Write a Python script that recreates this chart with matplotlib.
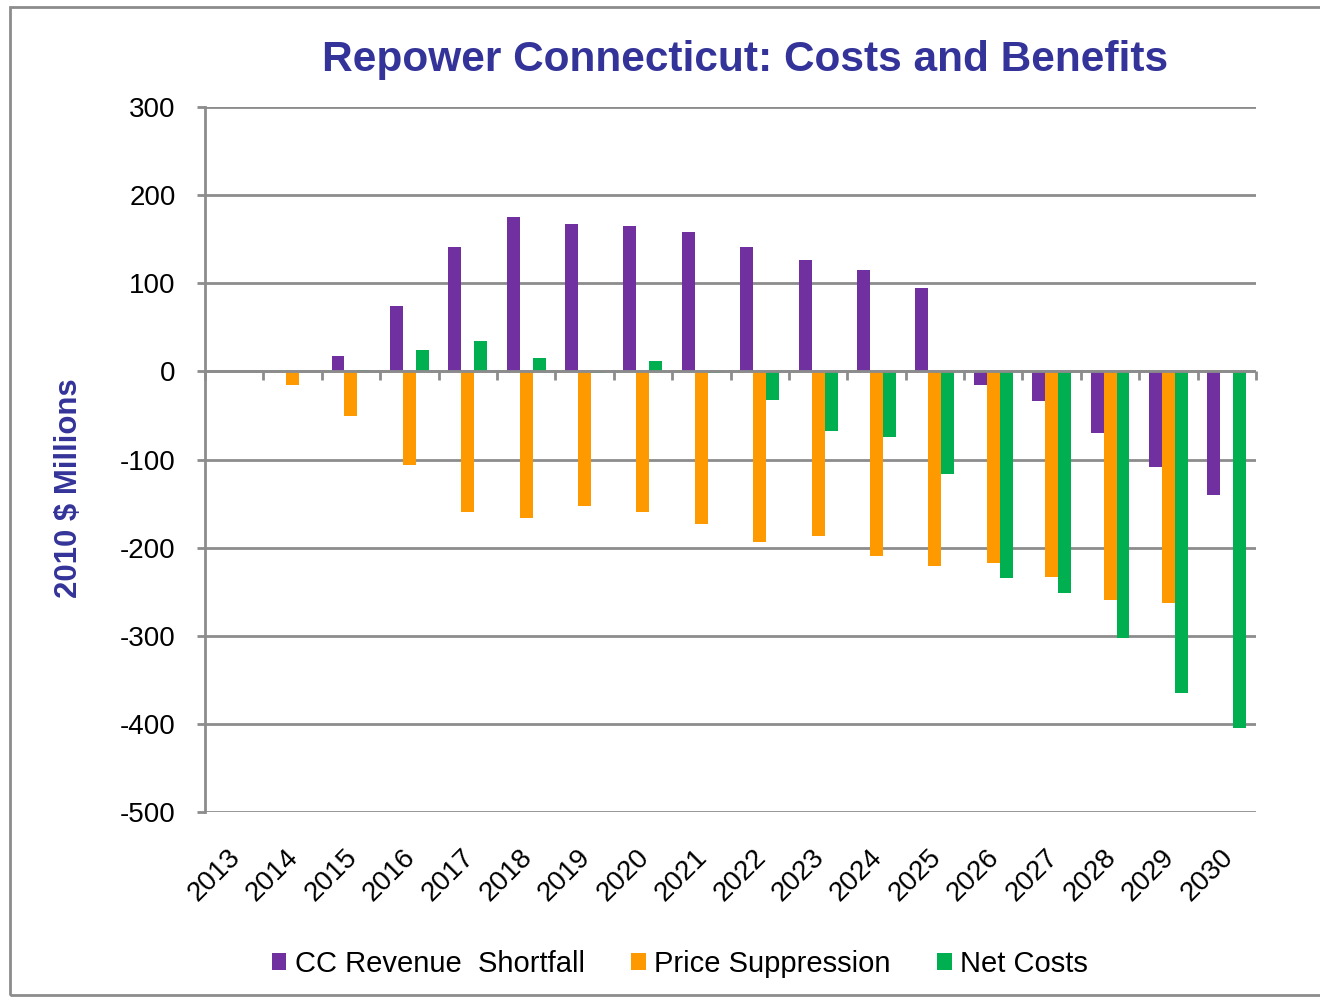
import matplotlib
matplotlib.use("Agg")
import matplotlib.pyplot as plt
import numpy as np
from matplotlib.patches import Rectangle

plt.rcParams['font.family'] = ['Liberation Sans', 'DejaVu Sans']
plt.rcParams['axes.unicode_minus'] = False

years = [str(y) for y in range(2013, 2031)]
cc_revenue_shortfall = [0, 0, 17, 74, 141, 175, 167, 165, 158, 141, 126, 115, 95, -15, -34, -70, -108, -140]
price_suppression = [0, -15, -51, -106, -160, -166, -153, -160, -173, -194, -187, -209, -221, -218, -233, -259, -263, 0]
net_costs = [0, 0, 1, 24, 35, 15, -2, 12, -2, -32, -68, -74, -116, -235, -252, -302, -365, -405]
series_names = ["CC Revenue  Shortfall", "Price Suppression", "Net Costs"]
colors = ["#7030A0", "#FF9900", "#00B050"]

fig = plt.figure(figsize=(13.2, 9.97), dpi=100)
fig.patches.append(Rectangle((10/1320, 2/997), 1.0, 1 - 9/997, transform=fig.transFigure,
                             fill=False, edgecolor="#8c8c8c", linewidth=2))
ax = fig.add_axes([205/1320, 1 - 812/997, (1256 - 205)/1320, (812 - 107)/997])

x = np.arange(len(years))
w = 0.222
for i, (vals, c, name) in enumerate(zip([cc_revenue_shortfall, price_suppression, net_costs], colors, series_names)):
    ax.bar(x + (i - 1) * w, vals, width=w, color=c, label=name, zorder=3)

ax.set_xlim(-0.5, len(years) - 0.5)
ax.set_ylim(-500, 300)
ax.set_yticks(np.arange(-500, 301, 100))
ax.yaxis.grid(True, color="#8c8c8c", linewidth=2, zorder=0)
ax.set_axisbelow(True)
for s in ["top", "right", "bottom"]:
    ax.spines[s].set_visible(False)
ax.spines["left"].set_color("#8c8c8c")
ax.spines["left"].set_linewidth(2)
ax.tick_params(axis="y", length=6, width=2, color="#8c8c8c", labelsize=20, pad=15)

# x axis line at zero with category-boundary ticks
ax.axhline(0, color="#8c8c8c", linewidth=2, zorder=4)
ax.set_xticks(x)
ax.set_xticklabels([])
ax.tick_params(axis="x", length=0)
for b in np.arange(-0.5, len(years), 1.0):
    ax.plot([b, b], [0, -10], color="#8c8c8c", linewidth=2, zorder=4, clip_on=False,
            solid_capstyle="butt")

for xi, lab in zip(x, years):
    ax.annotate(lab, xy=(xi, -500), xycoords="data", xytext=(-5, -23), textcoords="offset points",
                rotation=45, ha="right", va="top", fontsize=20, rotation_mode="anchor")

fig.text(745/1320, 1 - 60/997, "Repower Connecticut: Costs and Benefits", ha="center", va="center",
         fontsize=30.5, fontweight="bold", color="#333399")
fig.text(69/1320, 1 - 488/997, "2010 $ Millions", ha="center", va="center", rotation=90,
         fontsize=22.4, fontweight="bold", color="#333399")

leg = fig.legend(loc="center", bbox_to_anchor=(680/1320, 1 - 964/997), ncol=3, frameon=False,
                 fontsize=21, handlelength=0.5, handleheight=0.5, handletextpad=0.3, columnspacing=1.58)

fig.savefig("out.png", dpi=100)
